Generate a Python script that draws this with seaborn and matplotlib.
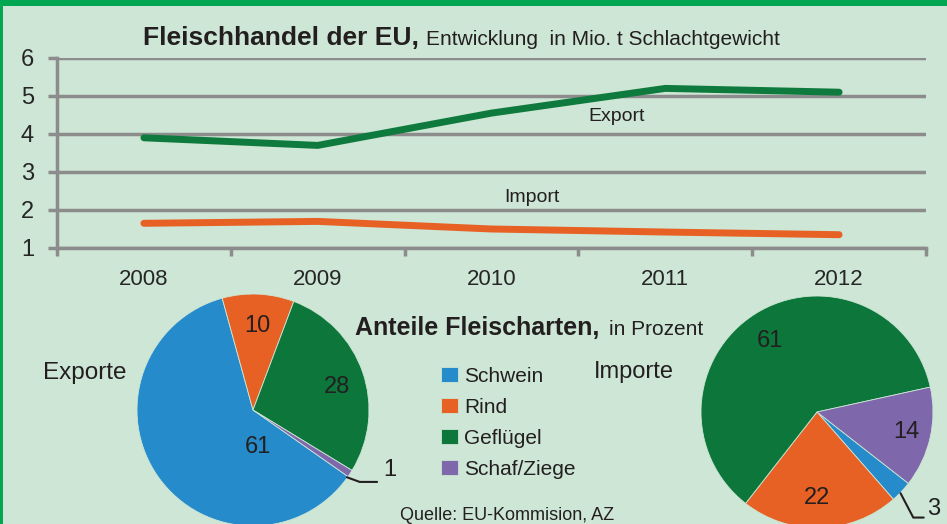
import numpy as np
import pandas as pd
import seaborn as sns
import matplotlib.pyplot as plt
from matplotlib.patches import Rectangle

# Daten
jahre = ['2008', '2009', '2010', '2011', '2012']
export_mio_t = [3.9, 3.7, 4.55, 5.2, 5.1]
import_mio_t = [1.65, 1.7, 1.5, 1.42, 1.35]

fleischarten = ['Schwein', 'Rind', 'Geflügel', 'Schaf/Ziege']
anteile_export = [61, 10, 28, 1]
anteile_import = [3, 22, 61, 14]
farben = ['#268bcb', '#e86124', '#0d773b', '#7e67aa']

bg = '#cde6d5'
grau = '#8c8c8c'
rand = '#00a651'

sns.set_style('white')
plt.rcParams['font.family'] = ['Liberation Sans Narrow', 'Liberation Sans', 'DejaVu Sans']
plt.rcParams['text.color'] = '#231f20'

W, H = 947, 524
fig = plt.figure(figsize=(W / 100, H / 100), dpi=100, facecolor=bg)


def box(l, t, w, h):
    # pixel box (from top left) -> figure fraction
    return [l / W, 1 - (t + h) / H, w / W, h / H]


# Rahmen
fig.add_artist(Rectangle((0, 1 - 6 / H), 1, 6 / H, transform=fig.transFigure, color=rand, lw=0))
fig.add_artist(Rectangle((0, 0), 3 / W, 1, transform=fig.transFigure, color=rand, lw=0))

# Liniendiagramm
ax = fig.add_axes(box(57, 58, 869, 190))
ax.set_facecolor('none')
df = pd.DataFrame({
    'Jahr': jahre * 2,
    'Wert': export_mio_t + import_mio_t,
    'Richtung': ['Export'] * len(jahre) + ['Import'] * len(jahre),
})
sns.lineplot(data=df, x='Jahr', y='Wert', hue='Richtung',
             palette={'Export': '#0f7a3d', 'Import': '#e86124'},
             linewidth=5, legend=False, ax=ax, solid_capstyle='round', zorder=3)
ax.set_xlim(-0.5, len(jahre) - 0.5)
ax.set_ylim(1, 6)
ax.set_yticks(range(1, 7))
ax.set_xticks(np.arange(-0.5, len(jahre)), minor=True)
ax.set_xlabel('')
ax.set_ylabel('')
ax.grid(axis='y', color=grau, lw=2.5)
ax.grid(axis='x', visible=False)
ax.set_axisbelow(True)
for s in ['top', 'right']:
    ax.spines[s].set_visible(False)
for s in ['left', 'bottom']:
    ax.spines[s].set_color(grau)
    ax.spines[s].set_linewidth(2.5)
ax.tick_params(axis='x', which='major', bottom=False, length=0, pad=15, labelsize=16)
ax.tick_params(axis='x', which='minor', bottom=True, length=6, width=2.5, color=grau, direction='out')
ax.tick_params(axis='y', left=True, length=6.5, width=2.5, color=grau, pad=10, labelsize=17)

ax.text(2.72, 4.47, 'Export', ha='center', va='center', fontsize=14)
ax.text(2.23, 2.32, 'Import', ha='center', va='center', fontsize=14)

# Titel
t1 = fig.text(143 / W, 1 - 45 / H, 'Fleischhandel der EU,', fontsize=19, fontweight='bold', va='baseline')
fig.canvas.draw()
bb = t1.get_window_extent()
fig.text(bb.x1 / W + 7 / W, 1 - 45 / H, 'Entwicklung  in Mio. t Schlachtgewicht', fontsize=15, va='baseline')

# Kreisdiagramme
def pie_axes(cx, cy, r):
    a = fig.add_axes(box(cx - r, cy - r, 2 * r, 2 * r))
    return a


ax_ex = pie_axes(253, 410, 116)
wedges, _ = ax_ex.pie(anteile_export, colors=farben, startangle=-35, counterclock=False,
                      wedgeprops=dict(linewidth=0.6, edgecolor=bg))
ax_ex.set_xlim(-1, 1)
ax_ex.set_ylim(-1, 1)
for txt, (x, y) in zip(['61', '10', '28'], [(0.04, -0.32), (0.04, 0.72), (0.72, 0.20)]):
    ax_ex.text(x, y, txt, ha='center', va='center', fontsize=17)
ax_ex.plot([0.81, 0.92, 1.07], [-0.58, -0.62, -0.62], color='#231f20', lw=1.5, clip_on=False)
ax_ex.text(1.12, -0.52, '1', ha='left', va='center', fontsize=17)

ax_im = pie_axes(817, 412, 116)
ax_im.pie(anteile_import, colors=farben, startangle=-38, counterclock=False,
          wedgeprops=dict(linewidth=0.6, edgecolor=bg))
ax_im.set_xlim(-1, 1)
ax_im.set_ylim(-1, 1)
for txt, (x, y) in zip(['22', '61', '14'], [(0.0, -0.74), (-0.41, 0.61), (0.77, -0.17)]):
    ax_im.text(x, y, txt, ha='center', va='center', fontsize=17)
ax_im.plot([0.72, 0.83, 0.92], [-0.70, -0.91, -0.91], color='#231f20', lw=1.5, clip_on=False)
ax_im.text(0.95, -0.84, '3', ha='left', va='center', fontsize=17)

fig.text(85 / W, 1 - 373 / H, 'Exporte', ha='center', va='center', fontsize=17.5)
fig.text(634 / W, 1 - 372 / H, 'Importe', ha='center', va='center', fontsize=17)

t2 = fig.text(355 / W, 1 - 335 / H, 'Anteile Fleischarten,', fontsize=18, fontweight='bold', va='baseline')
fig.canvas.draw()
bb = t2.get_window_extent()
fig.text(bb.x1 / W + 10 / W, 1 - 335 / H, 'in Prozent', fontsize=15, va='baseline')

fig.legend(wedges, fleischarten, loc='upper left', bbox_to_anchor=(441 / W, 1 - 367 / H),
           frameon=False, fontsize=15, handlelength=0.8, handleheight=0.75,
           handletextpad=0.3, labelspacing=0.57, borderpad=0, borderaxespad=0)

fig.text(400 / W, 1 - 520 / H, 'Quelle: EU-Kommision, AZ', fontsize=13, va='baseline')

fig.savefig('out.png', dpi=100, facecolor=bg)
